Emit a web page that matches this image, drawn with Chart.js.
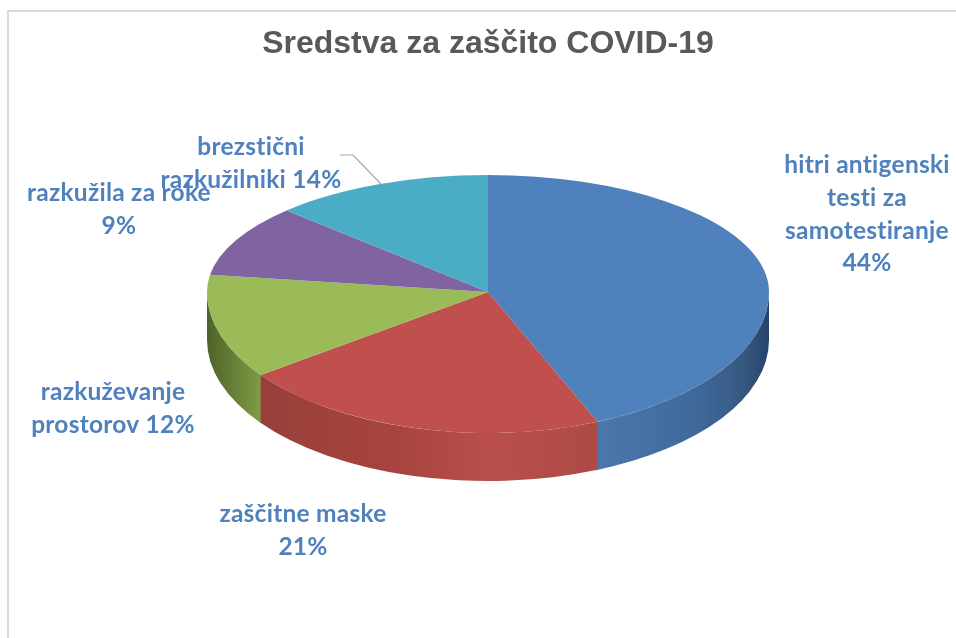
<!DOCTYPE html>
<html>
<head>
<meta charset="utf-8">
<style>html,body{margin:0;padding:0;background:#fff}canvas{display:block}</style>
<script src="https://cdn.jsdelivr.net/npm/chart.js@4"></script>
</head>
<body>
<canvas id="c" width="956" height="638"></canvas>
<script>
const chartTitle = "Sredstva za zaščito COVID-19";
const categories = ["hitri antigenski testi za samotestiranje", "zaščitne maske", "razkuževanje prostorov", "razkužila za roke", "brezstični razkužilniki"];
const values = [44, 21, 12, 9, 14];
const sliceColors = ["#4f81bd", "#c0504d", "#9bbb59", "#8064a2", "#4bacc6"];
const labelLines = [
  ["hitri antigenski", "testi za", "samotestiranje", "44%"],
  ["zaščitne maske", "21%"],
  ["razkuževanje", "prostorov 12%"],
  ["razkužila za roke", "9%"],
  ["brezstični", "razkužilniki 14%"]
];

/* presentation only */
const labelCentreX = [867, 303, 113, 119, 251];
const labelFirstBaseline = [173, 522, 400, 201, 155];
const labelLineGap = 32.8;
const leaderPath = [[340, 155], [353, 155], [381, 184]];
const disc = { x: 488, y: 292, rx: 281, ryFar: 117, ryNear: 141, depth: 48, farSqueeze: 0.85, nearRightStretch: 1.07 };
const wallOverlap = 0.006;
const wallStops = [
  [[598, "#4a78ad"], [700, "#3f6899"], [745, "#35587f"], [769, "#24436b"]],
  [[261, "#983f3b"], [400, "#a8443f"], [490, "#b94f4b"], [598, "#ad4a46"]],
  [[207, "#4f6228"], [261, "#7f9c46"]],
  [],
  []
];

/* the perspective of the tilted disc shifts the apparent slice angles */
function perspectiveAngle(a) {
  const s = Math.sin(a), c = Math.cos(a);
  if (Math.abs(s + 1) < 1e-9) return a;
  if (s >= 0 && c <= 0) return a;
  const k = s < 0 ? disc.farSqueeze : disc.nearRightStretch;
  let w = Math.atan2(s, c * k);
  if (w < -Math.PI / 2) w += 2 * Math.PI;
  return w;
}

const pie3d = {
  id: "pie3d",
  beforeDatasetsDraw(chart) {
    const ctx = chart.ctx;
    const arcs = chart.getDatasetMeta(0).data;
    const r = arcs[0].outerRadius, ox = arcs[0].x, oy = arcs[0].y;

    /* side wall, below the near half of the rim */
    arcs.forEach((arc, i) => {
      const a1 = Math.max(perspectiveAngle(arc.startAngle), 0);
      const a2 = Math.min(perspectiveAngle(arc.endAngle) + wallOverlap, Math.PI);
      if (a2 <= a1 || !wallStops[i].length) return;
      const stops = wallStops[i];
      const x0 = stops[0][0], x1 = stops[stops.length - 1][0];
      const g = ctx.createLinearGradient(x0, 0, x1, 0);
      stops.forEach(s => g.addColorStop((s[0] - x0) / (x1 - x0), s[1]));
      ctx.beginPath();
      ctx.ellipse(disc.x, disc.y, disc.rx, disc.ryNear, 0, a1, a2);
      ctx.ellipse(disc.x, disc.y + disc.depth, disc.rx, disc.ryNear, 0, a2, a1, true);
      ctx.closePath();
      ctx.fillStyle = g;
      ctx.fill();
    });

    /* top face: the library's arcs, squashed onto the tilted disc */
    const halves = [
      { ry: disc.ryFar, top: 0, h: disc.y },
      { ry: disc.ryNear, top: disc.y, h: chart.height - disc.y }
    ];
    halves.forEach(half => {
      ctx.save();
      ctx.beginPath();
      ctx.rect(0, half.top, chart.width, half.h);
      ctx.clip();
      ctx.translate(disc.x, disc.y);
      ctx.scale(disc.rx / r, half.ry / r);
      ctx.translate(-ox, -oy);
      arcs.forEach(arc => {
        const s = arc.startAngle, e = arc.endAngle;
        arc.startAngle = perspectiveAngle(s);
        arc.endAngle = perspectiveAngle(e);
        arc.draw(ctx);
        arc.startAngle = s;
        arc.endAngle = e;
      });
      ctx.restore();
    });
    return false;
  },
  afterDraw(chart) {
    const ctx = chart.ctx;
    ctx.save();
    /* leader line */
    ctx.strokeStyle = "#a6a6a6";
    ctx.lineWidth = 1.2;
    ctx.beginPath();
    leaderPath.forEach((p, i) => i ? ctx.lineTo(p[0], p[1]) : ctx.moveTo(p[0], p[1]));
    ctx.stroke();
    /* data labels */
    ctx.font = 'bold 24.5px Lato, "Open Sans", sans-serif';
    ctx.letterSpacing = "0.25px";
    ctx.fillStyle = "#4f81bd";
    ctx.textAlign = "center";
    ctx.textBaseline = "alphabetic";
    labelLines.forEach((lines, i) => {
      lines.forEach((t, j) => ctx.fillText(t, labelCentreX[i], labelFirstBaseline[i] + j * labelLineGap));
    });
    /* chart frame */
    ctx.strokeStyle = "#d9d9d9";
    ctx.lineWidth = 2;
    ctx.beginPath();
    ctx.moveTo(8, 638);
    ctx.lineTo(8, 11);
    ctx.lineTo(956, 11);
    ctx.stroke();
    ctx.restore();
  }
};

new Chart(document.getElementById("c"), {
  type: "pie",
  data: {
    labels: categories,
    datasets: [{ data: values, backgroundColor: sliceColors, borderWidth: 0 }]
  },
  options: {
    responsive: false,
    animation: false,
    layout: { padding: { left: 20 } },
    plugins: {
      legend: { display: false },
      tooltip: { enabled: false },
      title: {
        display: true,
        text: chartTitle,
        color: "#595959",
        font: { family: '"Liberation Sans", Arial, sans-serif', size: 32, weight: "bold" },
        padding: { top: 25, bottom: 10 }
      }
    }
  },
  plugins: [pie3d]
});
</script>
</body>
</html>
